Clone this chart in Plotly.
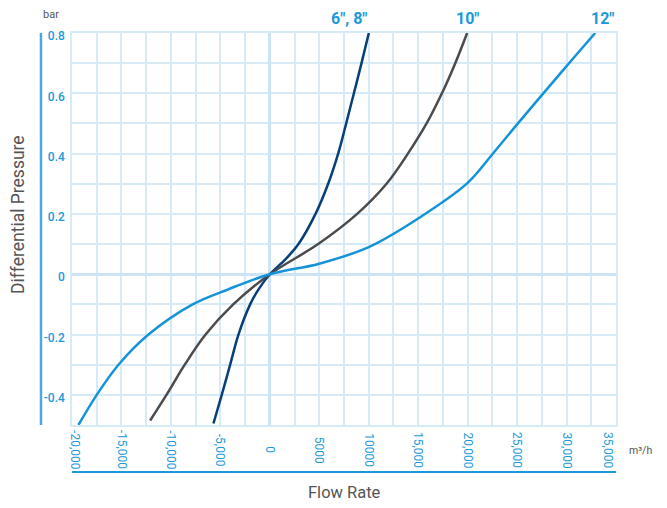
import plotly.graph_objects as go

# ---- data (flow rate m3/h, differential pressure bar) ----
q_6_8 = [-5700, -4860, -4010, -3170, -1990, -1140, 0, 1600, 2900, 4620, 5900, 6910, 7720, 8500, 9270, 10010]
p_6_8 = [-0.495, -0.4, -0.3, -0.2, -0.1, -0.05, 0, 0.05, 0.1, 0.2, 0.3, 0.4, 0.5, 0.6, 0.7, 0.8]

q_10 = [-12100, -10450, -8600, -6500, -3700, 0, 4890, 8830, 11800, 13960, 15850, 17400, 18750, 19950]
p_10 = [-0.485, -0.4, -0.3, -0.2, -0.1, 0, 0.1, 0.2, 0.3, 0.4, 0.5, 0.6, 0.7, 0.8]

q_12 = [-19350, -17500, -15300, -12270, -7800, -4200, 0, 5000, 10000, 15000, 20000, 22500, 25000, 30000, 32900]
p_12 = [-0.5, -0.4, -0.3, -0.2, -0.1, -0.05, 0, 0.035, 0.09, 0.185, 0.303, 0.398, 0.497, 0.69, 0.8]

series_names = ['6", 8"', '10"', '12"']
series_colors = ["#073f78", "#4b4b4d", "#1593d9"]

x_tickvals = [-20000, -15000, -10000, -5000, 0, 5000, 10000, 15000, 20000, 25000, 30000, 35000]
x_ticktext = ["-20,000", "-15,000", "-10,000", "-5,000", "0", "5000", "10000",
              "15,000", "20,000", "25,000", "30,000", "35,000"]
y_tickvals = [0.8, 0.6, 0.4, 0.2, 0, -0.2, -0.4]
y_ticktext = ["0.8", "0.6", "0.4", "0.2", "0", "-0.2", "-0.4"]

label_blue = "#1a9ad9"
grid_col = "#d6eaf8"
gray_txt = "#555555"
FONT = "Roboto"

fig = go.Figure()
for qs, ps, name, col in zip([q_6_8, q_10, q_12], [p_6_8, p_10, p_12], series_names, series_colors):
    fig.add_trace(go.Scatter(x=qs, y=ps, mode="lines", name=name,
                             line=dict(color=col, width=2.5, shape="spline", smoothing=1.0),
                             showlegend=False, hoverinfo="skip"))

fig.update_layout(
    width=659, height=500,
    margin=dict(l=64, r=51, t=25, b=83, autoexpand=False),
    paper_bgcolor="white", plot_bgcolor="white",
    font=dict(family=FONT, color=label_blue),
)
fig.update_xaxes(
    range=[-20000, 35000], tickvals=x_tickvals, showticklabels=False,
    showgrid=True, gridcolor=grid_col, gridwidth=1.5,
    minor=dict(dtick=2500, tick0=0, showgrid=True, gridcolor=grid_col, gridwidth=1.5),
    zeroline=True, zerolinecolor="#cce4f6", zerolinewidth=3,
    showline=True, linecolor=grid_col, linewidth=1.5, mirror=True,
    ticks="", automargin=False,
)
fig.update_yaxes(
    range=[-0.5, 0.8], tickvals=y_tickvals, ticktext=y_ticktext,
    tickfont=dict(family=FONT, size=12, color=label_blue, weight=500),
    showgrid=True, gridcolor=grid_col, gridwidth=1.5,
    minor=dict(dtick=0.1, tick0=0, showgrid=True, gridcolor=grid_col, gridwidth=1.5),
    zeroline=True, zerolinecolor="#cce4f6", zerolinewidth=3,
    showline=True, linecolor=grid_col, linewidth=1.5, mirror=True,
    ticks="", ticklabelstandoff=3, ticklabelshift=3, automargin=False,
)

# x tick labels, rotated and centred below the plot
x_label_shift = [3, 0, 0, 0, 0, 0, 0, 0, 0, 0, 0, -8]
for v, t, sh in zip(x_tickvals, x_ticktext, x_label_shift):
    fig.add_annotation(x=v, y=-0.064, xref="x", yref="paper", text=t, textangle=90,
                       showarrow=False, xanchor="center", yanchor="middle", xshift=sh,
                       font=dict(family=FONT, size=12, color=label_blue))

# series labels at top
ann_x = [q_6_8[-1], q_10[-1], 35000]
ann_anchor = ["right", "center", "right"]
for name, x, anc in zip(series_names, ann_x, ann_anchor):
    fig.add_annotation(x=x, y=1.036, xref="x", yref="paper", text="<b>%s</b>" % name,
                       showarrow=False, xanchor=anc, yanchor="middle",
                       font=dict(family=FONT, size=16, color=label_blue))

fig.add_annotation(x=-0.0386, y=1.046, xref="paper", yref="paper", text="bar", showarrow=False,
                   xanchor="center", yanchor="middle", font=dict(family=FONT, size=11, color=gray_txt))
fig.add_annotation(x=1.02, y=-0.064, xref="paper", yref="paper", text="m³/h", showarrow=False,
                   xanchor="left", yanchor="middle", font=dict(family=FONT, size=10.5, color=gray_txt))
fig.add_annotation(x=0.5, y=-0.173, xref="paper", yref="paper", text="Flow Rate", showarrow=False,
                   xanchor="center", yanchor="middle", font=dict(family=FONT, size=16.5, color=gray_txt))
fig.add_annotation(x=-0.099, y=0.536, xref="paper", yref="paper", text="Differential Pressure",
                   showarrow=False, textangle=-90, xanchor="center", yanchor="middle",
                   font=dict(family=FONT, size=17.5, color=gray_txt))

# decorative axis rules
fig.add_shape(type="line", xref="paper", yref="paper", x0=-0.057, x1=-0.057, y0=0, y1=1,
              line=dict(color="#4ba9e2", width=2.5))
fig.add_shape(type="line", xref="paper", yref="paper", x0=0, x1=1, y0=-0.12, y1=-0.12,
              line=dict(color=label_blue, width=2))

fig.write_html("out.html")
